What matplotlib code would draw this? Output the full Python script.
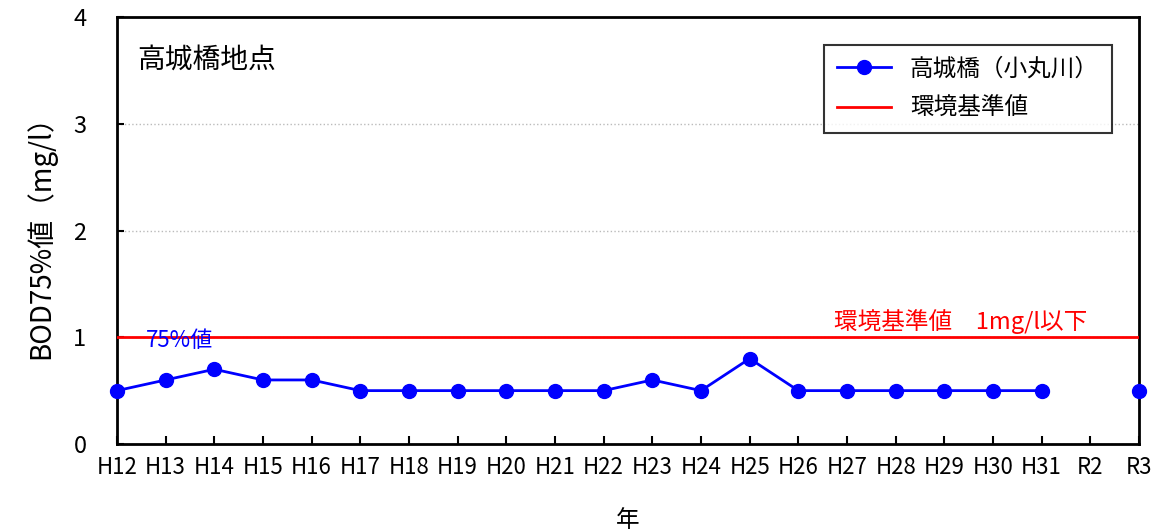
import numpy as np
import matplotlib
matplotlib.use("Agg")
import matplotlib.pyplot as plt

plt.rcParams['font.family'] = ['Noto Sans CJK JP', 'DejaVu Sans']

years = ["H12", "H13", "H14", "H15", "H16", "H17", "H18", "H19", "H20", "H21", "H22",
         "H23", "H24", "H25", "H26", "H27", "H28", "H29", "H30", "H31", "R2", "R3"]
bod75 = [0.5, 0.6, 0.7, 0.6, 0.6, 0.5, 0.5, 0.5, 0.5, 0.5, 0.5,
         0.6, 0.5, 0.8, 0.5, 0.5, 0.5, 0.5, 0.5, 0.5, np.nan, 0.5]
standard = 1.0

fig = plt.figure(figsize=(11.59, 5.30), dpi=100)
ax = fig.add_axes([117/1159, 86/530, (1139-117)/1159, (444-17)/530])

x = np.arange(len(years))
ax.plot(x, bod75, color='#0000FF', lw=2, marker='o', ms=10, label='高城橋（小丸川）',
        clip_on=False, zorder=4)
ax.axhline(standard, color='#FF0000', lw=2, label='環境基準値', zorder=3)

ax.set_xlim(0, len(years) - 1)
ax.set_ylim(0, 4)
ax.set_xticks(x)
ax.set_xticklabels(years, fontsize=16)
ax.set_yticks([0, 1, 2, 3, 4])
ax.set_yticklabels(['0', '1', '2', '3', '4'], fontsize=17)
ax.tick_params(axis='x', direction='in', length=6, width=1.5, pad=9)
ax.tick_params(axis='y', direction='in', length=5, width=1.5, pad=22)
for s in ['left', 'bottom', 'right', 'top']:
    ax.spines[s].set_linewidth(2)
ax.yaxis.grid(True, color='#BBBBBB', linestyle=':', lw=1)
ax.set_axisbelow(True)

ax.set_ylabel('BOD75%値（mg/l）', fontsize=20, labelpad=12)
ax.set_xlabel('年', fontsize=17, labelpad=21)

ax.text(0.02, 0.935, '高城橋地点', transform=ax.transAxes, fontsize=20, va='top', ha='left')
ax.text(0.6, 0.97, '75%値', color='#0000FF', fontsize=16, ha='left', va='center')
ax.text(19.93, 1.03, '環境基準値　1mg/l以下', color='#FF0000', fontsize=17, ha='right', va='bottom')

leg = ax.legend(loc='upper right', bbox_to_anchor=(0.985, 0.963), fontsize=17, frameon=True,
                fancybox=False, edgecolor='black', handlelength=2.3, labelspacing=0.7,
                borderpad=0.55)
leg.get_frame().set_linewidth(1.5)

fig.savefig('out.png', dpi=100)
